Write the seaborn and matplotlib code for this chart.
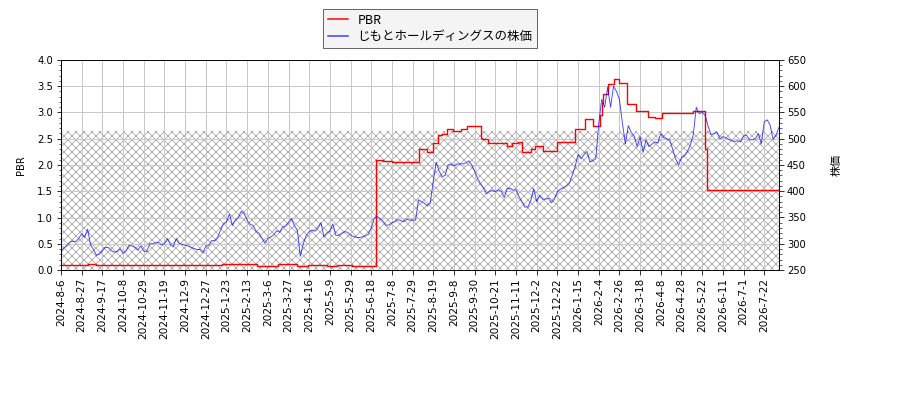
import numpy as np
import pandas as pd
import seaborn as sns
import matplotlib.pyplot as plt
from matplotlib.ticker import MultipleLocator, AutoMinorLocator

# PBR: trading-day index where the value changes, and the new value
pbr_day = [0, 18, 24, 109, 133, 147, 160, 167, 180, 187, 197,
           213, 218, 224, 242, 248, 252, 255, 258, 261, 265, 271, 275,
           284, 285, 289, 302, 305, 309, 312, 318, 321, 326, 336, 348,
           355, 360, 365, 366, 367, 370, 374, 378, 383, 389, 397, 402,
           407, 428, 436, 437, 486]
pbr_value = [0.09, 0.11, 0.09, 0.11, 0.08, 0.11, 0.08, 0.10, 0.085, 0.10, 0.08,
             2.09, 2.07, 2.05, 2.30, 2.24, 2.41, 2.57, 2.59, 2.68, 2.64, 2.68, 2.745,
             2.51, 2.49, 2.415, 2.37, 2.415, 2.445, 2.24, 2.30, 2.37, 2.27, 2.43, 2.68,
             2.87, 2.745, 2.955, 3.19, 3.35, 3.54, 3.64, 3.57, 3.165, 3.02, 2.92, 2.90,
             2.99, 3.03, 2.30, 1.53, 1.53]

# share price, one reading every second trading day from 2024-8-6
price = [
    284, 292, 296, 303, 305, 304, 310, 319, 312, 328,
    298, 289, 278, 280, 287, 293, 293, 287, 284, 285,
    290, 282, 286, 297, 296, 293, 288, 296, 286, 285,
    300, 300, 302, 303, 298, 300, 310, 299, 294, 310,
    301, 299, 297, 296, 293, 291, 289, 289, 283, 295,
    297, 306, 306, 312, 326, 338, 342, 357, 335, 345,
    350, 362, 357, 345, 337, 335, 324, 320, 310, 301,
    310, 313, 317, 325, 322, 332, 334, 341, 348, 334,
    326, 276, 300, 316, 323, 326, 324, 330, 340, 313,
    320, 324, 338, 316, 316, 320, 323, 322, 316, 314,
    312, 312, 313, 315, 318, 330, 348, 352, 348, 343,
    335, 336, 340, 342, 346, 344, 342, 347, 345, 345,
    345, 384, 380, 377, 372, 378, 420, 455, 438, 428,
    430, 450, 452, 448, 452, 452, 452, 454, 458, 450,
    438, 424, 414, 406, 395, 400, 402, 399, 403, 400,
    388, 405, 406, 402, 403, 390, 380, 370, 370, 382,
    405, 380, 392, 385, 385, 387, 378, 385, 399, 404,
    407, 410, 415, 430, 447, 470, 462, 470, 476, 456,
    458, 462, 530, 575, 560, 598, 560, 600, 590, 575,
    530, 490, 525, 512, 505, 485, 504, 474, 498, 485,
    490, 494, 492, 510, 502, 500, 498, 480, 462, 450,
    464, 468, 476, 488, 508, 560, 548, 550, 545, 524,
    508, 510, 512, 500, 504, 502, 499, 496, 495, 496,
    494, 505, 507, 498, 498, 500, 510, 490, 532, 536,
    526, 499, 507, 522,
]

tick_labels = ['2024-8-6', '2024-8-27', '2024-9-17', '2024-10-8', '2024-10-29',
               '2024-11-19', '2024-12-9', '2024-12-27', '2025-1-23', '2025-2-13',
               '2025-3-6', '2025-3-27', '2025-4-16', '2025-5-9', '2025-5-29',
               '2025-6-18', '2025-7-8', '2025-7-29', '2025-8-19', '2025-9-8',
               '2025-9-30', '2025-10-21', '2025-11-11', '2025-12-2', '2025-12-22',
               '2026-1-15', '2026-2-4', '2026-2-26', '2026-3-18', '2026-4-8',
               '2026-4-28', '2026-5-22', '2026-6-11', '2026-7-1', '2026-7-22']

pbr_df = pd.DataFrame({'day': pbr_day, 'pbr': pbr_value})
price_df = pd.DataFrame({'day': np.arange(len(price)) * 2, 'price': price})

plt.rcParams['font.family'] = ['DejaVu Sans', 'Noto Sans CJK JP']
plt.rcParams['hatch.linewidth'] = 0.8

fig = plt.figure(figsize=(12.5, 400 / 72), dpi=72)
ax1 = fig.add_axes([61 / 900, 130 / 400, 718 / 900, 210 / 400])
ax2 = ax1.twinx()

# shaded band
ax1.axhspan(0, 2.65, facecolor='none', edgecolor='#aaaaaa', hatch='xxx',
            linewidth=0, zorder=0.5)

sns.lineplot(data=pbr_df, x='day', y='pbr', ax=ax1, color='red', lw=1.4,
             drawstyle='steps-post', legend=False)
sns.lineplot(data=price_df, x='day', y='price', ax=ax2, color='blue',
             alpha=0.75, lw=0.9, legend=False)

ax1.set_xlim(0, 486)
ax1.set_ylim(0, 4.0)
ax2.set_ylim(250, 650)
ax1.yaxis.set_major_locator(MultipleLocator(0.5))
ax2.yaxis.set_major_locator(MultipleLocator(50))
ax1.yaxis.set_minor_locator(AutoMinorLocator())
ax2.yaxis.set_minor_locator(AutoMinorLocator())

ax1.set_xticks(np.arange(len(tick_labels)) * 14)
ax1.set_xticklabels(tick_labels, rotation=90, fontsize=10.5)
ax1.tick_params(axis='y', labelsize=10)
ax2.tick_params(axis='y', labelsize=10)
for a in (ax1, ax2):
    a.tick_params(which='major', length=4.5)
    a.tick_params(which='minor', length=2.5)

ax1.grid(True, color='#c8c8c8', lw=1)
ax1.set_xlabel('')
ax1.set_ylabel('PBR', fontsize=10, labelpad=11)
ax2.set_ylabel('株価', fontsize=11, labelpad=26)

handles = [ax1.lines[0], ax2.lines[0]]
labels = ['PBR', 'じもとホールディングスの株価']
leg = fig.legend(handles, labels, loc='upper center', bbox_to_anchor=(0.478, 0.9925),
                 prop={'family': ['Noto Sans CJK JP'], 'size': 12.5},
                 fancybox=False, edgecolor='#666666', facecolor='#f4f4f4',
                 framealpha=1, handlelength=1.6, borderpad=0.35, labelspacing=0.3)
leg.get_frame().set_linewidth(1.0)
for line in leg.get_lines():
    line.set_linewidth(1.5)
    line.set_alpha(1 if line.get_color() == 'red' else 0.75)

fig.savefig('out.png', dpi=72)
